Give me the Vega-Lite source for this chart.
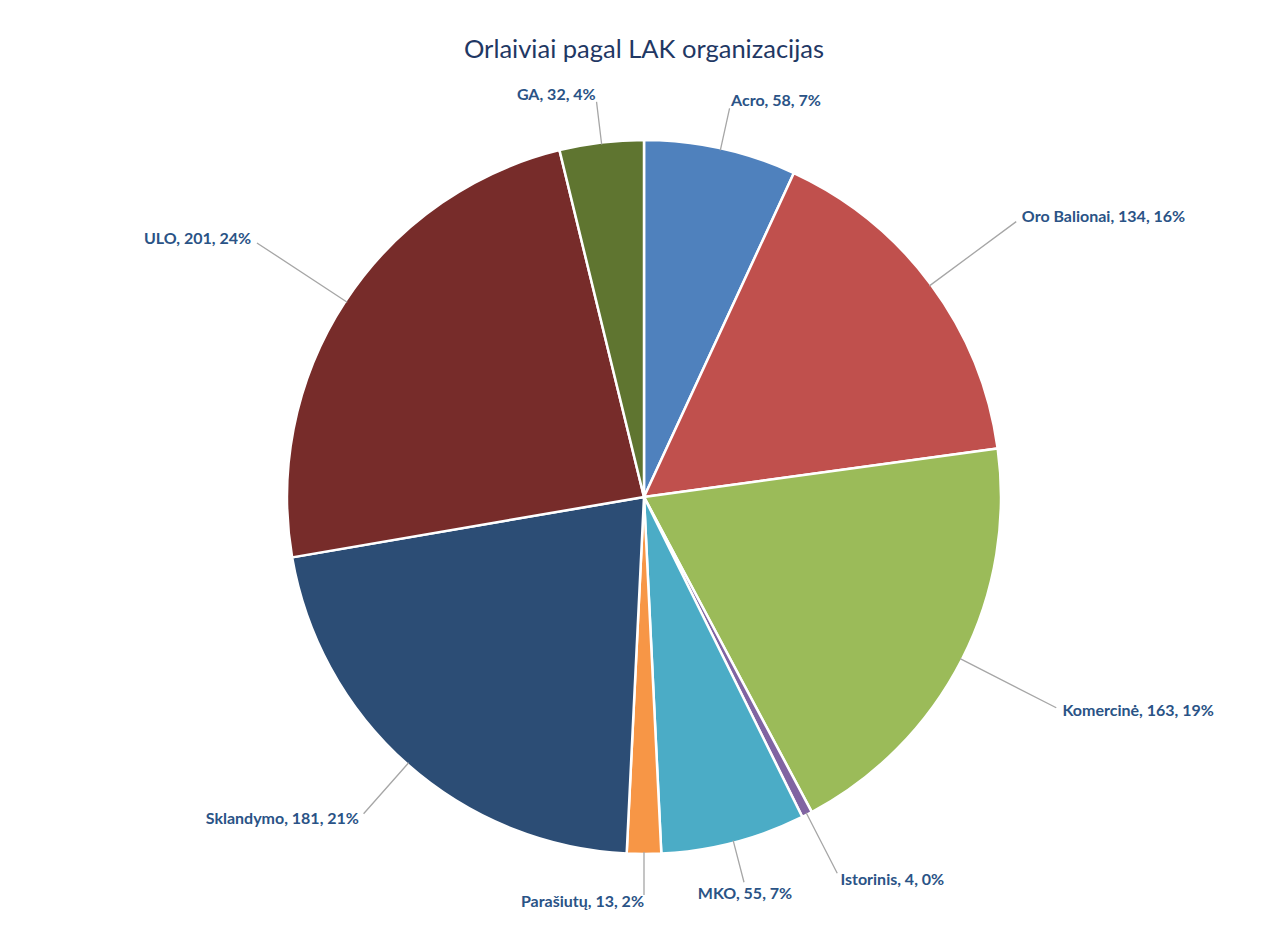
{
  "$schema": "https://vega.github.io/schema/vega-lite/v6.json",
  "width": 1250,
  "height": 858,
  "autosize": {"type": "none"},
  "padding": {"left": 19, "top": 68, "right": 0, "bottom": 0},
  "background": "white",
  "title": {
    "text": "Orlaiviai pagal LAK organizacijas",
    "font": "Lato",
    "fontSize": 25.5,
    "fontWeight": "normal",
    "color": "#1f3864",
    "offset": 12,
    "dy": 53
  },
  "data": {
    "values": [
      {"i": 1, "org": "Acro", "n": 58, "label": "Acro, 58, 7%"},
      {"i": 2, "org": "Oro Balionai", "n": 134, "label": "Oro Balionai, 134, 16%"},
      {"i": 3, "org": "Komercinė", "n": 163, "label": "Komercinė, 163, 19%"},
      {"i": 4, "org": "Istorinis", "n": 4, "label": "Istorinis, 4, 0%"},
      {"i": 5, "org": "MKO", "n": 55, "label": "MKO, 55, 7%"},
      {"i": 6, "org": "Parašiutų", "n": 13, "label": "Parašiutų, 13, 2%"},
      {"i": 7, "org": "Sklandymo", "n": 181, "label": "Sklandymo, 181, 21%"},
      {"i": 8, "org": "ULO", "n": 201, "label": "ULO, 201, 24%"},
      {"i": 9, "org": "GA", "n": 32, "label": "GA, 32, 4%"}
    ]
  },
  "encoding": {
    "theta": {"field": "n", "type": "quantitative", "stack": true},
    "order": {"field": "i", "type": "quantitative"}
  },
  "layer": [
    {
      "mark": {"type": "arc", "outerRadius": 357, "stroke": "white", "strokeWidth": 2.5},
      "encoding": {
        "color": {
          "field": "org",
          "type": "nominal",
          "scale": {
            "domain": ["Acro", "Oro Balionai", "Komercinė", "Istorinis", "MKO", "Parašiutų", "Sklandymo", "ULO", "GA"],
            "range": ["#4f81bd", "#c0504d", "#9bbb59", "#8064a2", "#4bacc6", "#f79646", "#2c4d75", "#772c2a", "#5f7530"]
          },
          "legend": null
        }
      }
    },
    {
      "mark": {"type": "arc", "innerRadius": 355, "outerRadius": 398, "padAngle": 3.14, "fill": null, "fillOpacity": 0, "stroke": "#a6a6a6", "strokeWidth": 1.3},
      "encoding": {
        "strokeOpacity": {"condition": {"test": "indexof(['Acro','GA','Parašiutų','MKO'], datum.org) >= 0", "value": 1}, "value": 0}
      }
    },
    {
      "mark": {"type": "arc", "innerRadius": 355, "outerRadius": 423, "padAngle": 3.14, "fill": null, "fillOpacity": 0, "stroke": "#a6a6a6", "strokeWidth": 1.3},
      "encoding": {
        "strokeOpacity": {"condition": {"test": "indexof(['Istorinis','Sklandymo'], datum.org) >= 0", "value": 1}, "value": 0}
      }
    },
    {
      "mark": {"type": "arc", "innerRadius": 355, "outerRadius": 463, "padAngle": 3.14, "fill": null, "fillOpacity": 0, "stroke": "#a6a6a6", "strokeWidth": 1.3},
      "encoding": {
        "strokeOpacity": {"condition": {"test": "indexof(['Oro Balionai','Komercinė','ULO'], datum.org) >= 0", "value": 1}, "value": 0}
      }
    },
    {
      "mark": {"type": "text", "radius": 405, "align": "left", "font": "Lato", "fontSize": 16, "fontWeight": "bold", "fill": "#2a5386", "baseline": "middle"},
      "encoding": {
        "text": {"condition": {"test": "datum.org == 'Acro'", "field": "label", "type": "nominal"}, "value": ""}
      }
    },
    {
      "mark": {"type": "text", "radius": 405, "align": "right", "font": "Lato", "fontSize": 16, "fontWeight": "bold", "fill": "#2a5386", "baseline": "middle"},
      "encoding": {
        "text": {"condition": {"test": "indexof(['Parašiutų','GA'], datum.org) >= 0", "field": "label", "type": "nominal"}, "value": ""}
      }
    },
    {
      "mark": {"type": "text", "radius": 470, "align": "left", "font": "Lato", "fontSize": 16, "fontWeight": "bold", "fill": "#2a5386", "baseline": "middle"},
      "encoding": {
        "text": {"condition": {"test": "indexof(['Oro Balionai','Komercinė'], datum.org) >= 0", "field": "label", "type": "nominal"}, "value": ""}
      }
    },
    {
      "mark": {"type": "text", "radius": 470, "align": "right", "font": "Lato", "fontSize": 16, "fontWeight": "bold", "fill": "#2a5386", "baseline": "middle"},
      "encoding": {
        "text": {"condition": {"test": "datum.org == 'ULO'", "field": "label", "type": "nominal"}, "value": ""}
      }
    },
    {
      "mark": {"type": "text", "radius": 430, "align": "left", "font": "Lato", "fontSize": 16, "fontWeight": "bold", "fill": "#2a5386", "baseline": "middle"},
      "encoding": {
        "text": {"condition": {"test": "datum.org == 'Istorinis'", "field": "label", "type": "nominal"}, "value": ""}
      }
    },
    {
      "mark": {"type": "text", "radius": 430, "align": "right", "font": "Lato", "fontSize": 16, "fontWeight": "bold", "fill": "#2a5386", "baseline": "middle"},
      "encoding": {
        "text": {"condition": {"test": "datum.org == 'Sklandymo'", "field": "label", "type": "nominal"}, "value": ""}
      }
    },
    {
      "mark": {"type": "text", "radius": 402, "align": "center", "font": "Lato", "fontSize": 16, "fontWeight": "bold", "fill": "#2a5386", "baseline": "top"},
      "encoding": {
        "text": {"condition": {"test": "datum.org == 'MKO'", "field": "label", "type": "nominal"}, "value": ""}
      }
    }
  ],
  "config": {"view": {"stroke": null}}
}
